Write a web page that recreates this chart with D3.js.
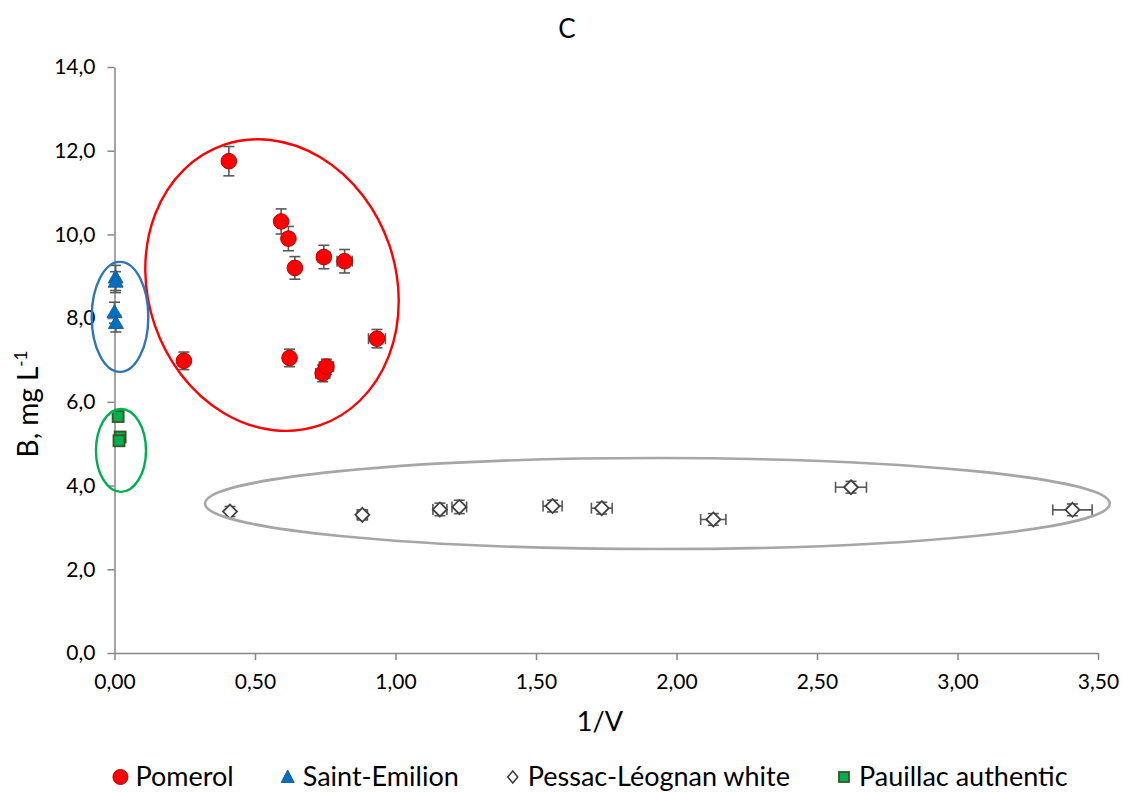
<!DOCTYPE html>
<html>
<head>
<meta charset="utf-8">
<script src="https://cdn.jsdelivr.net/npm/d3@7"></script>
<style>
  body { margin: 0; background: #fff; }
  svg { display: block; }
  text { font-family: Lato, "Noto Sans", sans-serif; fill: #000; }
</style>
</head>
<body>
<svg id="chart" width="1123" height="793"></svg>
<script>
// ---- data: boron (mg/L) against 1/V ----
const pomerolX    = [0.407, 0.593, 0.619, 0.642, 0.745, 0.819, 0.934, 0.247, 0.623, 0.741, 0.754];
const pomerolY    = [11.75, 10.31, 9.90, 9.20, 9.46, 9.36, 7.51, 6.98, 7.05, 6.68, 6.84];
const pomerolErrX = [0.012, 0.018, 0.019, 0.019, 0.022, 0.027, 0.030, 0.008, 0.019, 0.025, 0.025];
const pomerolErrY = [0.35, 0.30, 0.29, 0.27, 0.28, 0.28, 0.22, 0.21, 0.21, 0.20, 0.18];

const stEmilionX    = [0.004, 0.004, 0.000, 0.005];
const stEmilionY    = [8.96, 8.86, 8.13, 7.87];
const stEmilionErrY = [0.30, 0.25, 0.25, 0.20];

const pessacX    = [0.411, 0.882, 1.158, 1.227, 1.559, 1.734, 2.131, 2.621, 3.409];
const pessacY    = [3.38, 3.30, 3.43, 3.49, 3.51, 3.46, 3.19, 3.96, 3.42];
const pessacErrX = [0.009, 0.018, 0.025, 0.026, 0.034, 0.037, 0.045, 0.055, 0.070];
const pessacErrY = [0.12, 0.12, 0.15, 0.16, 0.14, 0.14, 0.14, 0.14, 0.14];

const pauillacX    = [0.013, 0.020, 0.016];
const pauillacY    = [5.65, 5.16, 5.07];
const pauillacErrY = [0.08, 0.08, 0.08];

const xTickValues = [0, 0.5, 1, 1.5, 2, 2.5, 3, 3.5];
const yTickValues = [0, 2, 4, 6, 8, 10, 12, 14];

const seriesNames = ["Pomerol", "Saint-Emilion", "Pessac-Léognan white", "Pauillac authentic"];

// group outlines in data units: centre, semi-axes, screen rotation (deg)
const outlineCx   = [0.5605, 0.0196, 0.0231, 1.932];
const outlineCy   = [8.79, 8.03, 4.84, 3.57];
const outlineRx   = [0.441, 0.1007, 0.089, 1.610];
const outlineRy   = [3.54, 1.314, 0.991, 1.087];
const outlineRot  = [-19, 0, 0, 0];
const outlineCol  = ["#FF0000", "#2E75B6", "#00B050", "#A6A6A6"];

// ---- layout ----
const svg = d3.select("#chart");
const x = d3.scaleLinear().domain([0, 3.5]).range([114.5, 1098]);
const y = d3.scaleLinear().domain([0, 14]).range([653, 67]);

const locale = d3.formatLocale({ decimal: ",", thousands: ".", grouping: [3], currency: ["", ""] });
const fx = locale.format(".2f");
const fy = locale.format(".1f");

const axisColor = "#868686";
const errColor = "#595959";

// y axis
const gy = svg.append("g").attr("transform", `translate(${x(0)},0)`)
  .call(d3.axisLeft(y).tickValues(yTickValues).tickFormat(fy).tickSize(7).tickSizeOuter(0).tickPadding(12));
// x axis
const gx = svg.append("g").attr("transform", `translate(0,${y(0)})`)
  .call(d3.axisBottom(x).tickValues(xTickValues).tickFormat(fx).tickSize(7).tickSizeOuter(0).tickPadding(14));

[gx, gy].forEach(g => {
  g.select(".domain").attr("stroke", axisColor).attr("stroke-width", 1.5);
  g.selectAll(".tick line").attr("stroke", axisColor).attr("stroke-width", 1.5);
  g.selectAll(".tick text").attr("font-size", 21).attr("font-family", "Lato, sans-serif").attr("fill", "#000");
});

// titles
svg.append("text").attr("x", 567).attr("y", 38).attr("text-anchor", "middle")
  .attr("font-size", 26).text("C");
svg.append("text").attr("x", 600).attr("y", 731).attr("text-anchor", "middle")
  .attr("font-size", 27).text("1/V");
const yt = svg.append("text").attr("transform", `translate(38,404) rotate(-90)`)
  .attr("text-anchor", "middle").attr("font-size", 28);
yt.append("tspan").text("B, mg L");
yt.append("tspan").attr("font-size", 17).attr("dy", -11).text("-1");

// ---- marker shapes ----
const triPath = "M0,-8L7.5,5L-7.5,5Z";
const diaPath = "M0,-7L7,0L0,7L-7,0Z";

function errorBars(g, xs, ys, exs, eys) {
  const cap = 5.5;
  xs.forEach((xv, i) => {
    const px = x(xv), py = y(ys[i]);
    if (eys && eys[i]) {
      const y1 = y(ys[i] + eys[i]), y2 = y(ys[i] - eys[i]);
      g.append("line").attr("x1", px).attr("x2", px).attr("y1", y1).attr("y2", y2);
      g.append("line").attr("x1", px - cap).attr("x2", px + cap).attr("y1", y1).attr("y2", y1);
      g.append("line").attr("x1", px - cap).attr("x2", px + cap).attr("y1", y2).attr("y2", y2);
    }
    if (exs && exs[i]) {
      const x1 = x(xv - exs[i]), x2 = x(xv + exs[i]);
      g.append("line").attr("x1", x1).attr("x2", x2).attr("y1", py).attr("y2", py);
      g.append("line").attr("x1", x1).attr("x2", x1).attr("y1", py - cap).attr("y2", py + cap);
      g.append("line").attr("x1", x2).attr("x2", x2).attr("y1", py - cap).attr("y2", py + cap);
    }
  });
}

const errG = svg.append("g").attr("stroke", errColor).attr("stroke-width", 1.6);
errorBars(errG, pessacX, pessacY, pessacErrX, pessacErrY);
errorBars(errG, pauillacX, pauillacY, null, pauillacErrY);
errorBars(errG, stEmilionX, stEmilionY, null, stEmilionErrY);
errorBars(errG, pomerolX, pomerolY, pomerolErrX, pomerolErrY);

// Pessac-Léognan white: open diamonds
svg.append("g").selectAll("path").data(d3.range(pessacX.length)).join("path")
  .attr("d", diaPath)
  .attr("transform", i => `translate(${x(pessacX[i])},${y(pessacY[i])})`)
  .attr("fill", "#fff").attr("stroke", "#404040").attr("stroke-width", 1.8);

// Pauillac authentic: green squares
svg.append("g").selectAll("rect").data(d3.range(pauillacX.length)).join("rect")
  .attr("x", i => x(pauillacX[i]) - 5.5).attr("y", i => y(pauillacY[i]) - 5.5)
  .attr("width", 11).attr("height", 11)
  .attr("fill", "#00B050").attr("stroke", "#375623").attr("stroke-width", 1.8);

// Saint-Emilion: blue triangles
svg.append("g").selectAll("path").data(d3.range(stEmilionX.length)).join("path")
  .attr("d", triPath)
  .attr("transform", i => `translate(${x(stEmilionX[i])},${y(stEmilionY[i])})`)
  .attr("fill", "#0070C0").attr("stroke", "#1F5C99").attr("stroke-width", 1);

// Pomerol: red circles
svg.append("g").selectAll("circle").data(d3.range(pomerolX.length)).join("circle")
  .attr("cx", i => x(pomerolX[i])).attr("cy", i => y(pomerolY[i])).attr("r", 7.8)
  .attr("fill", "#FF0000").attr("stroke", "#B80000").attr("stroke-width", 1);

// group outlines
svg.append("g").selectAll("ellipse").data(d3.range(outlineCx.length)).join("ellipse")
  .attr("cx", 0).attr("cy", 0)
  .attr("rx", i => x(outlineCx[i] + outlineRx[i]) - x(outlineCx[i]))
  .attr("ry", i => y(outlineCy[i] - outlineRy[i]) - y(outlineCy[i]))
  .attr("transform", i => `translate(${x(outlineCx[i])},${y(outlineCy[i])}) rotate(${outlineRot[i]})`)
  .attr("fill", "none").attr("stroke", i => outlineCol[i])
  .attr("stroke-width", i => i === 3 ? 2.6 : 2.4);

// ---- legend ----
const legend = svg.append("g");
const markerDraw = [
  g => g.append("circle").attr("r", 7.5).attr("fill", "#FF0000").attr("stroke", "#B80000"),
  g => g.append("path").attr("d", "M0,-7L6.5,5.5L-6.5,5.5Z").attr("fill", "#0070C0").attr("stroke", "#1F5C99"),
  g => g.append("path").attr("d", "M0,-6L5,0L0,6L-5,0Z").attr("fill", "#fff").attr("stroke", "#404040").attr("stroke-width", 1.6),
  g => g.append("rect").attr("x", -5).attr("y", -5).attr("width", 10).attr("height", 10)
        .attr("fill", "#00B050").attr("stroke", "#375623").attr("stroke-width", 1.8)
];
const gap = 46;
let cursor = 0;
seriesNames.forEach((name, i) => {
  const it = legend.append("g");
  const mk = it.append("g").attr("transform", `translate(${cursor + 8},0)`);
  markerDraw[i](mk);
  const t = it.append("text").attr("x", cursor + 23).attr("y", 9).attr("font-size", 27).text(name);
  const w = t.node().getComputedTextLength();
  cursor += 23 + w + gap;
});
const totalW = cursor - gap;
legend.attr("transform", `translate(${590 - totalW / 2},777)`);
</script>
</body>
</html>
